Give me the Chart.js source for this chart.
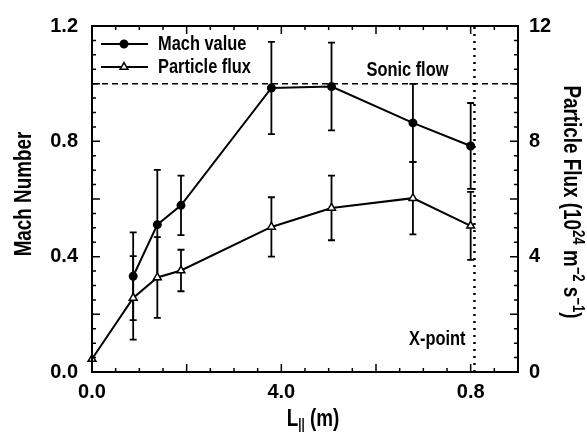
<!DOCTYPE html>
<html>
<head>
<meta charset="utf-8">
<script src="https://cdn.jsdelivr.net/npm/chart.js@4.4.1/dist/chart.umd.min.js"></script>
<style>
  html, body { margin: 0; padding: 0; background: #fff; }
</style>
</head>
<body>
<canvas id="chart" width="587" height="434"></canvas>
<script>
// Values
const machX = [0.087, 0.138, 0.188, 0.379, 0.506, 0.678, 0.80];
const machY = [0.332, 0.511, 0.578, 0.985, 0.99, 0.864, 0.784];
const machErr = [0.152, 0.19, 0.103, 0.16, 0.152, 0.135, 0.149];

const fluxX = [0.0, 0.087, 0.138, 0.188, 0.379, 0.506, 0.678, 0.80];
const fluxY = [0.45, 2.57, 3.28, 3.52, 5.03, 5.69, 6.03, 5.07];
const fluxErr = [0, 1.45, 1.4, 0.72, 1.03, 1.12, 1.26, 1.18];

const sonicX = [0, 0.9];
const sonicY = [1.0, 1.0];
const xPointX = [0.808, 0.808];
const xPointY = [0, 1.2];

const xTicks = [0, 0.4, 0.8];
const xTickLabels = ['0.0', '4.0', '0.8'];
const yTicks = [0, 0.4, 0.8, 1.2];
const yTickLabels = ['0.0', '0.4', '0.8', '1.2'];
const y2Ticks = [0, 4, 8, 12];
const y2TickLabels = ['0', '4', '8', '12'];

const FONT = "'Liberation Sans', Arial, sans-serif";
const NARROW = 0.82; // squeeze Arial into Arial Narrow proportions

const toPoints = (xs, ys) => xs.map((x, i) => ({ x: x, y: ys[i] }));

// draws bold condensed text, returns its width
function narrowText(ctx, text, x, y, size, align) {
    ctx.save();
    ctx.font = 'bold ' + size + 'px ' + FONT;
    const w = ctx.measureText(text).width * NARROW;
    let sx = x;
    if (align === 'right') sx = x - w;
    else if (align === 'center') sx = x - w / 2;
    ctx.translate(sx, y);
    ctx.scale(NARROW, 1);
    ctx.textAlign = 'left';
    ctx.textBaseline = 'middle';
    ctx.fillStyle = '#000';
    ctx.fillText(text, 0, 0);
    ctx.restore();
    return w;
}

function narrowWidth(ctx, text, size) {
    ctx.save();
    ctx.font = 'bold ' + size + 'px ' + FONT;
    const w = ctx.measureText(text).width * NARROW;
    ctx.restore();
    return w;
}

// text made of [string, size, dy] parts, centred on 0
function drawParts(ctx, parts) {
    let total = 0;
    parts.forEach(p => { total += narrowWidth(ctx, p[0], p[1]); });
    let x = -total / 2;
    parts.forEach(p => { x += narrowText(ctx, p[0], x, p[2], p[1], 'left'); });
}

// error bars drawn under the markers
const errorBars = {
    id: 'errorBars',
    beforeDatasetsDraw(chart) {
        const ctx = chart.ctx;
        const xs = chart.scales.x;
        ctx.save();
        ctx.strokeStyle = '#000';
        ctx.lineWidth = 1.8;
        const draw = (xv, yv, ev, scale) => {
            xv.forEach((v, i) => {
                if (!ev[i]) return;
                const px = xs.getPixelForValue(v);
                const top = scale.getPixelForValue(yv[i] + ev[i]);
                const bot = scale.getPixelForValue(yv[i] - ev[i]);
                ctx.beginPath();
                ctx.moveTo(px, top); ctx.lineTo(px, bot);
                ctx.moveTo(px - 3.5, top); ctx.lineTo(px + 3.5, top);
                ctx.moveTo(px - 3.5, bot); ctx.lineTo(px + 3.5, bot);
                ctx.stroke();
            });
        };
        draw(machX, machY, machErr, chart.scales.y);
        draw(fluxX, fluxY, fluxErr, chart.scales.y2);
        ctx.restore();
    }
};

// frame, inward ticks, legend, notes and axis titles
const decorations = {
    id: 'decorations',
    afterDatasetsDraw(chart) {
        const { ctx, chartArea: a, scales } = chart;
        ctx.save();
        ctx.strokeStyle = '#000';
        ctx.lineWidth = 1.5;
        ctx.beginPath();
        for (let i = 0; i <= 18; i++) {
            const px = scales.x.getPixelForValue(i * 0.05);
            const len = i % 4 === 0 ? 8 : 4;
            ctx.moveTo(px, a.bottom); ctx.lineTo(px, a.bottom - len);
            ctx.moveTo(px, a.top); ctx.lineTo(px, a.top + len);
        }
        for (let i = 0; i <= 24; i++) {
            const len = i % 4 === 0 ? 8 : 4;
            const py = scales.y.getPixelForValue(i * 0.05);
            ctx.moveTo(a.left, py); ctx.lineTo(a.left + len, py);
            const py2 = scales.y2.getPixelForValue(i * 0.5);
            ctx.moveTo(a.right, py2); ctx.lineTo(a.right - len, py2);
        }
        ctx.stroke();
        ctx.lineWidth = 2;
        ctx.strokeRect(a.left, a.top, a.right - a.left, a.bottom - a.top);

        // legend
        const rows = [
            { label: chart.data.datasets[0].label, style: 'circle', dy: 18 },
            { label: chart.data.datasets[1].label, style: 'triangle', dy: 41 }
        ];
        rows.forEach(r => {
            const y = a.top + r.dy;
            ctx.lineWidth = 2;
            ctx.beginPath();
            ctx.moveTo(a.left + 9, y); ctx.lineTo(a.left + 56, y);
            ctx.stroke();
            if (r.style === 'circle') {
                ctx.fillStyle = '#000';
                Chart.helpers.drawPoint(ctx, { pointStyle: 'circle', radius: 3.5, borderWidth: 1 }, a.left + 32, y);
            } else {
                ctx.fillStyle = '#fff';
                ctx.lineWidth = 1.5;
                Chart.helpers.drawPoint(ctx, { pointStyle: 'triangle', radius: 4.5, borderWidth: 1.5 }, a.left + 32, y);
            }
            narrowText(ctx, r.label, a.left + 66, y, 20, 'left');
        });

        // notes
        const xp = scales.x.getPixelForValue(xPointX[0]);
        narrowText(ctx, 'Sonic flow', xp - 26, scales.y.getPixelForValue(sonicY[0]) - 13, 20, 'right');
        narrowText(ctx, 'X-point', xp - 9, a.bottom - 33, 20, 'right');

        // x title with subscript
        ctx.save();
        ctx.translate(313, 420);
        drawParts(ctx, [['L', 23, 0], ['||', 14, 5], [' (m)', 23, 0]]);
        ctx.restore();

        // left title
        ctx.save();
        ctx.translate(24.5, 194);
        ctx.rotate(-Math.PI / 2);
        drawParts(ctx, [['Mach Number', 23, 0]]);
        ctx.restore();

        // right title, with superscripts
        ctx.save();
        ctx.translate(570, 202);
        ctx.rotate(Math.PI / 2);
        drawParts(ctx, [
            ['Particle Flux (10', 23, 0], ['24', 16, -7], [' m', 23, 0], ['\u22122', 16, -7],
            [' s', 23, 0], ['\u22121', 16, -7], [')', 23, 0]
        ]);
        ctx.restore();
        ctx.restore();
    }
};

const tickFont = { family: FONT, size: 20, weight: 'bold', lineHeight: 1.2 };

new Chart(document.getElementById('chart'), {
    type: 'line',
    data: {
        datasets: [{
            label: 'Mach value',
            data: toPoints(machX, machY),
            yAxisID: 'y',
            borderColor: '#000',
            borderWidth: 2,
            pointStyle: 'circle',
            pointRadius: 3.5,
            pointBackgroundColor: '#000',
            pointBorderColor: '#000',
            tension: 0,
            clip: false
        }, {
            label: 'Particle flux',
            data: toPoints(fluxX, fluxY),
            yAxisID: 'y2',
            borderColor: '#000',
            borderWidth: 2,
            pointStyle: 'triangle',
            pointRadius: 4.5,
            pointBorderWidth: 1.5,
            pointBackgroundColor: '#fff',
            pointBorderColor: '#000',
            tension: 0,
            clip: false
        }, {
            label: 'Sonic flow',
            data: toPoints(sonicX, sonicY),
            yAxisID: 'y',
            borderColor: '#000',
            borderWidth: 1.5,
            borderDash: [6, 4],
            pointRadius: 0
        }, {
            label: 'X-point',
            data: toPoints(xPointX, xPointY),
            yAxisID: 'y',
            borderColor: '#000',
            borderWidth: 2.5,
            borderDash: [2, 5],
            pointRadius: 0
        }]
    },
    options: {
        responsive: false,
        animation: false,
        layout: { padding: { top: 22, left: 0, right: 0, bottom: 0 } },
        plugins: {
            legend: { display: false },
            tooltip: { enabled: false }
        },
        scales: {
            x: {
                type: 'linear',
                min: 0,
                max: 0.9,
                grid: { display: false, drawTicks: false },
                border: { display: false },
                afterBuildTicks: s => { s.ticks = xTicks.map(v => ({ value: v })); },
                afterFit: s => { s.height = 62; },
                ticks: {
                    padding: 8,
                    color: '#000',
                    font: tickFont,
                    maxRotation: 0,
                    callback: v => xTickLabels[xTicks.indexOf(v)]
                }
            },
            y: {
                position: 'left',
                min: 0,
                max: 1.2,
                grid: { display: false, drawTicks: false },
                border: { display: false },
                afterBuildTicks: s => { s.ticks = yTicks.map(v => ({ value: v })); },
                afterFit: s => { s.width = 92; },
                ticks: {
                    padding: 14,
                    color: '#000',
                    font: tickFont,
                    callback: v => yTickLabels[yTicks.indexOf(v)]
                }
            },
            y2: {
                position: 'right',
                min: 0,
                max: 12,
                grid: { display: false, drawTicks: false },
                border: { display: false },
                afterBuildTicks: s => { s.ticks = y2Ticks.map(v => ({ value: v })); },
                afterFit: s => { s.width = 69; },
                ticks: {
                    padding: 11,
                    color: '#000',
                    font: tickFont,
                    callback: v => y2TickLabels[y2Ticks.indexOf(v)]
                }
            }
        }
    },
    plugins: [errorBars, decorations]
});
</script>
</body>
</html>
